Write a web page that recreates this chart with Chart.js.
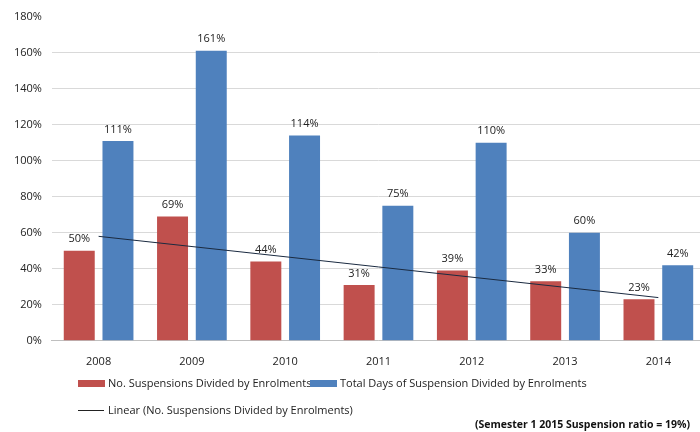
<!DOCTYPE html>
<html>
<head>
<meta charset="utf-8">
<script src="https://cdn.jsdelivr.net/npm/chart.js@4.4.1/dist/chart.umd.min.js"></script>
<style>
  html, body { margin: 0; padding: 0; background: #fff; overflow: hidden; }
  #wrap { position: relative; width: 700px; height: 432px; overflow: hidden; font-family: "Open Sans", sans-serif; color: #222; }
  #chart { position: absolute; left: 0; top: 0; }
  .leg { position: absolute; font-size: 11px; line-height: 14px; white-space: nowrap; }
  .box { display: inline-block; width: 27px; height: 7px; vertical-align: middle; margin-right: 3px; position: relative; top: -1px; }
  .ln { display: inline-block; width: 26px; height: 1px; background: #222; vertical-align: middle; margin-right: 4px; position: relative; top: -1px; }
  #note { position: absolute; right: 10px; top: 417px; font-size: 10.5px; font-weight: bold; color: #111; }
</style>
</head>
<body>
<div id="wrap">
  <canvas id="chart" width="705" height="432"></canvas>
  <div class="leg" style="left:78px; top:376px;"><span class="box" style="background:#C0504D"></span>No. Suspensions Divided by Enrolments</div>
  <div class="leg" style="left:310px; top:376px;"><span class="box" style="background:#4F81BD"></span>Total Days of Suspension Divided by Enrolments</div>
  <div class="leg" style="left:78px; top:403px;"><span class="ln"></span>Linear (No. Suspensions Divided by Enrolments)</div>
  <div id="note">(Semester 1 2015 Suspension ratio = 19%)</div>
</div>
<script>
// Data
const years = ['2008', '2009', '2010', '2011', '2012', '2013', '2014'];
const suspensions = [50, 69, 44, 31, 39, 33, 23];
const totalDays = [111, 161, 114, 75, 110, 60, 42];
// Excel linear trend line, endpoints as drawn
const trendLine = [58, null, null, null, null, null, 24];
const yTicks = [0, 20, 40, 60, 80, 100, 120, 140, 160, 180];

// Draw the % labels above the bars
const barLabels = {
  id: 'barLabels',
  afterDatasetsDraw(chart) {
    const ctx = chart.ctx;
    ctx.save();
    ctx.font = '11px "Open Sans", sans-serif';
    ctx.fillStyle = '#222';
    ctx.textAlign = 'center';
    ctx.textBaseline = 'bottom';
    [0, 1].forEach(i => {
      const meta = chart.getDatasetMeta(i);
      meta.data.forEach((bar, j) => {
        ctx.fillText(chart.data.datasets[i].data[j] + '%', bar.x, bar.y - 6);
      });
    });
    ctx.restore();
  }
};

new Chart(document.getElementById('chart'), {
  type: 'bar',
  data: {
    labels: years,
    datasets: [
      { label: 'No. Suspensions Divided by Enrolments', data: suspensions, backgroundColor: '#C0504D', barPercentage: 0.8, categoryPercentage: 0.83, order: 2 },
      { label: 'Total Days of Suspension Divided by Enrolments', data: totalDays, backgroundColor: '#4F81BD', barPercentage: 0.8, categoryPercentage: 0.83, order: 2 },
      { type: 'line', label: 'Linear (No. Suspensions Divided by Enrolments)', data: trendLine, borderColor: '#1a2a40', borderWidth: 1, pointRadius: 0, spanGaps: true, order: 1 }
    ]
  },
  options: {
    responsive: false,
    animation: false,
    layout: { padding: { top: 8, right: 0, bottom: 58, left: 4 } },
    plugins: { legend: { display: false }, tooltip: { enabled: false } },
    scales: {
      x: {
        grid: { display: false },
        border: { color: '#bfbfbf' },
        ticks: { color: '#222', font: { family: 'Open Sans', size: 11 }, padding: 6 }
      },
      y: {
        min: 0, max: 180,
        afterBuildTicks: axis => { axis.ticks = yTicks.map(v => ({ value: v })); },
        grid: { color: ctx => ctx.tick && ctx.tick.value === 180 ? 'rgba(0,0,0,0)' : '#d9d9d9', drawTicks: false },
        border: { display: false },
        ticks: { color: '#222', font: { family: 'Open Sans', size: 11 }, padding: 10, callback: v => v + '%' }
      }
    }
  },
  plugins: [barLabels]
});
</script>
</body>
</html>
